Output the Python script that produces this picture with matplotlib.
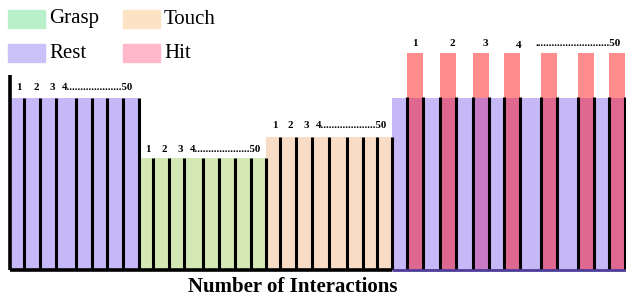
import matplotlib
matplotlib.use("Agg")
import matplotlib.pyplot as plt
from matplotlib.patches import Rectangle

# ---- data (schematic units: x along interactions, y = activity level) ----
phases = ["Rest", "Grasp", "Touch", "Rest"]
phase_left = [10, 139, 266, 392]
phase_right = [139, 266, 392, 626]
phase_height = [172, 112, 133, 172]
phase_colors = ["#c6b8f7", "#d3e8b5", "#f9dcc5", "#c6b8f7"]

rest_dividers = [24, 40, 56, 76, 92, 107, 123, 139]
grasp_dividers = [153, 169, 184, 203, 219, 235, 251, 266]
touch_dividers = [280, 296, 312, 329, 347, 363, 377, 392]

hit_left = [407, 440, 473, 504, 541, 578, 609]
hit_width = [16, 16, 16, 16, 16, 16, 16]
hit_height = 217
hit_overlap_colors = ["#df6890", "#df6890", "#c97bc6", "#df6890", "#df6890", "#df6890", "#df6890"]

seq_labels = ["1", "2", "3", "4" + "." * 20 + "50"]
rest_label_x = [16, 33, 49, 62]
grasp_label_x = [145, 161, 177, 190]
touch_label_x = [272, 288, 303, 316]
hit_labels = ["1", "2", "3", "4", "." * 27 + "50"]
hit_label_x = [415, 452, 485, 519, 535]

legend_names = ["Grasp", "Touch", "Rest", "Hit"]
legend_colors = ["#b9f0c9", "#fbe3c4", "#c9c1f8", "#ffb7c9"]

W, H = 626, 297
fig = plt.figure(figsize=(W / 100, H / 100), dpi=100)
ax = fig.add_axes([0, 0, 1, 1])
ax.set_xlim(0, W)
ax.set_ylim(-27, 270)
ax.axis("off")

serif = ["Liberation Serif", "DejaVu Serif"]

# blocks
for l, r, h, c in zip(phase_left, phase_right, phase_height, phase_colors):
    ax.bar(l, h, width=r - l, bottom=0, align="edge", color=c, edgecolor="none", zorder=1)

# hit bars
for hl, hw, oc in zip(hit_left, hit_width, hit_overlap_colors):
    ax.bar(hl, hit_height, width=hw, bottom=0, align="edge", color="#ff8d8d", edgecolor="none", zorder=2)
    ax.bar(hl, phase_height[3], width=hw, bottom=0, align="edge", color=oc, edgecolor="none", zorder=3)
    ax.vlines([hl, hl + hw], 0, phase_height[3] + 1, colors="black", lw=2.2, zorder=4)

# dividers
ax.vlines(rest_dividers, 0, phase_height[0], colors="black", lw=2.2, zorder=4)
ax.vlines(grasp_dividers, 0, phase_height[1], colors="black", lw=2.2, zorder=4)
ax.vlines(touch_dividers, 0, phase_height[2], colors="black", lw=2.2, zorder=4)

# left axis and baseline
ax.vlines([phase_left[0]], 0, 195, colors="black", lw=2.6, zorder=5)
ax.hlines([0], phase_left[0], phase_left[3], colors="black", lw=2.6, zorder=5)
ax.hlines([0], phase_left[3], phase_right[3], colors="#4c3c98", lw=2.0, zorder=5)

# sequence labels
def seq(xs, labels, y):
    for x, t in zip(xs, labels):
        ax.text(x, y, t, fontsize=7.8, fontweight="bold", family=serif,
                ha="left", va="center", zorder=6)

seq(rest_label_x, seq_labels, 182)
seq(grasp_label_x, seq_labels, 121)
seq(touch_label_x, seq_labels, 144)
for x, t in zip(hit_label_x, hit_labels):
    yy = 225 if t == "4" else 227
    ax.text(x, yy, t, fontsize=8, fontweight="bold", family=serif,
            ha="left" if len(t) > 1 else "center", va="center", zorder=6)

# legend
leg_x = [8, 123, 8, 123]
leg_y = [242, 242, 208, 208]
for name, c, lx, ly in zip(legend_names, legend_colors, leg_x, leg_y):
    ax.add_patch(Rectangle((lx, ly), 37, 18, color=c, zorder=6))
    ax.text(lx + 41, ly + 9, name, fontsize=15, family=serif, ha="left", va="center", zorder=6)

ax.text(293, -17, "Number of Interactions", fontsize=15, fontweight="bold",
        family=serif, ha="center", va="center")

fig.savefig("out.png", dpi=100)
